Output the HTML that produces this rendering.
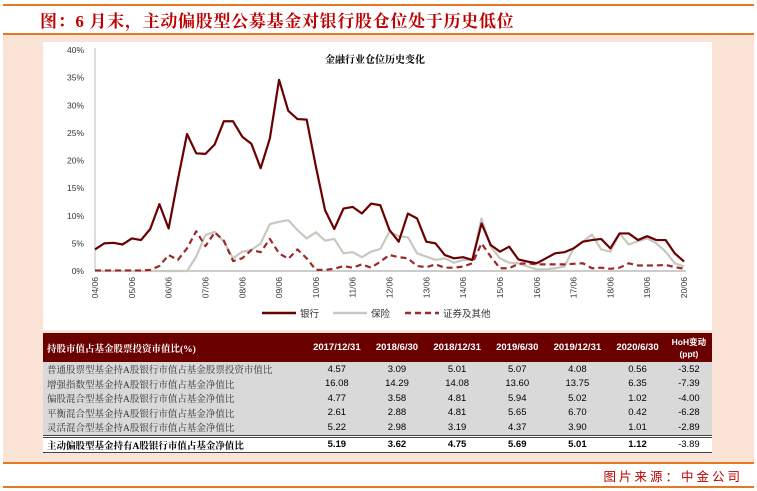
<!DOCTYPE html>
<html><head><meta charset="utf-8"><style>
body{margin:0;width:757px;height:491px;background:#fff;font-family:"Liberation Sans","Noto Sans CJK SC",sans-serif;position:relative;overflow:hidden}
.abs{position:absolute}
#title{left:40px;top:7px;font-size:17px;font-weight:bold;color:#c00000;font-family:"Liberation Serif","Noto Serif CJK SC",serif;letter-spacing:0.7px}
table{border-collapse:collapse;font-size:9.5px}
td{padding:0;text-align:center;height:14.5px}
td.l{text-align:left;padding-left:4px;font-family:"Liberation Serif","Noto Serif CJK SC",serif;color:#333}
</style></head><body>
<div class="abs" style="left:3px;top:4px;width:751px;height:2px;background:#e87722"></div>
<div id="title" class="abs">图：6 月末，主动偏股型公募基金对银行股仓位处于历史低位</div>
<div class="abs" style="left:3px;top:33px;width:751px;height:2px;background:#e87722"></div>
<div class="abs" style="left:3px;top:35px;width:751px;height:427px;background:#fbe3d6"></div>
<div class="abs" style="left:43px;top:42px;width:669px;height:288px;background:#fff"></div>
<svg class="abs" style="left:0;top:0" width="757" height="491" id="chart"></svg>
<div class="abs" style="left:43px;top:333px;width:669px;height:119px;background:#fff">
<table style="width:669px">
<tr style="background:#6b0000;color:#fff;font-weight:bold;height:29px">
<td class="l" style="color:#fff;width:258px;font-weight:bold">持股市值占基金股票投资市值比(%)</td><td>2017/12/31</td><td>2018/6/30</td><td>2018/12/31</td><td>2019/6/30</td><td>2019/12/31</td><td>2020/6/30</td><td style="font-size:8.5px;line-height:12px">HoH变动<br>(ppt)</td></tr>
<tr style="background:#d9d9d9"><td class="l">普通股票型基金持A股银行市值占基金股票投资市值比</td><td>4.57</td><td>3.09</td><td>5.01</td><td>5.07</td><td>4.08</td><td>0.56</td><td>-3.52</td></tr>
<tr style="background:#d9d9d9"><td class="l">增强指数型基金持A股银行市值占基金净值比</td><td>16.08</td><td>14.29</td><td>14.08</td><td>13.60</td><td>13.75</td><td>6.35</td><td>-7.39</td></tr>
<tr style="background:#d9d9d9"><td class="l">偏股混合型基金持A股银行市值占基金净值比</td><td>4.77</td><td>3.58</td><td>4.81</td><td>5.94</td><td>5.02</td><td>1.02</td><td>-4.00</td></tr>
<tr style="background:#d9d9d9"><td class="l">平衡混合型基金持A股银行市值占基金净值比</td><td>2.61</td><td>2.88</td><td>4.81</td><td>5.65</td><td>6.70</td><td>0.42</td><td>-6.28</td></tr>
<tr style="background:#d9d9d9;border-bottom:3px double #444"><td class="l">灵活混合型基金持A股银行市值占基金净值比</td><td>5.22</td><td>2.98</td><td>3.19</td><td>4.37</td><td>3.90</td><td>1.01</td><td>-2.89</td></tr>
<tr style="font-weight:bold;border-bottom:1.5px solid #444;height:15px"><td class="l" style="font-weight:bold;color:#000">主动偏股型基金持有A股银行市值占基金净值比</td><td>5.19</td><td>3.62</td><td>4.75</td><td>5.69</td><td>5.01</td><td>1.12</td><td style="font-weight:normal">-3.89</td></tr>
</table></div>
<div class="abs" style="left:3px;top:462px;width:751px;height:2px;background:#e87722"></div>
<div class="abs" style="right:14px;top:466px;font-size:12.5px;color:#c00000;letter-spacing:3px">图片来源：中金公司</div>
<div class="abs" style="left:3px;top:486px;width:751px;height:2px;background:#e87722"></div>
<script>
const bank=[3.9,5.0,5.1,4.8,5.9,5.6,7.6,12.1,7.7,16.5,24.8,21.3,21.2,22.9,27.1,27.1,24.3,23.0,18.6,24.0,34.6,29.0,27.5,27.4,18.9,11.0,7.6,11.3,11.6,10.4,12.2,11.9,7.4,5.3,10.4,9.5,5.3,5.0,2.9,2.3,2.5,2.0,8.6,4.7,3.5,4.4,2.1,1.7,1.4,2.3,3.2,3.4,4.1,5.3,5.6,5.8,4.1,6.8,6.8,5.6,6.3,5.6,5.6,3.2,1.7];
const insurance=[0,0,0,0,0,0,0,0,0,0,0,2.6,6.5,7.1,5.3,2.3,3.5,3.8,5.0,8.5,8.9,9.2,7.4,5.9,7.0,5.5,5.8,3.2,3.4,2.5,3.5,4.0,7.1,6.3,6.1,3.2,2.6,2.0,2.3,1.5,2.0,2.0,9.5,4.4,2.3,1.5,1.4,0.8,0.3,0.3,0.5,0.8,4.1,5.3,6.6,3.9,3.5,6.8,4.8,5.4,5.9,5.0,3.5,1.4,0.8];
const securities=[0.1,0.1,0.1,0.1,0.1,0.1,0.2,0.9,2.9,2.0,4.1,7.2,4.5,7.0,5.5,1.8,2.3,3.8,3.4,5.8,3.2,2.2,3.9,2.3,0.2,0.2,0.4,0.9,0.6,1.2,0.6,1.7,2.9,2.5,2.3,0.9,0.7,1.2,0.6,0.6,0.8,1.4,5.0,2.6,0.5,0.5,1.3,1.4,1.2,1.2,1.2,1.2,1.3,1.4,0.5,0.6,0.4,0.6,1.4,1.0,1.0,1.0,1.1,0.7,0.4];
const xLabels=["04/06","05/06","06/06","07/06","08/06","09/06","10/06","11/06","12/06","13/06","14/06","15/06","16/06","17/06","18/06","19/06","20/06"];
const yTicks=[0,5,10,15,20,25,30,35,40];
const X0=95,X1=684,Y0=271,Y1=50;
const n=bank.length;
const xs=i=>X0+(X1-X0)*i/(n-1);
const ys=v=>Y0-(Y0-Y1)*v/40;
const NS="http://www.w3.org/2000/svg";
const svg=document.getElementById('chart');
function mk(t,a){const e=document.createElementNS(NS,t);for(const k in a)e.setAttribute(k,a[k]);svg.appendChild(e);return e;}
let e=mk('line',{x1:X0,y1:Y1-2,x2:X0,y2:Y0,stroke:'#bbb','stroke-width':1});


e=mk('line',{x1:X0,y1:Y0,x2:X1+2,y2:Y0,stroke:'#bbb','stroke-width':1.5});


yTicks.forEach(v=>{const t=mk('text',{x:84,y:ys(v)+3,'text-anchor':'end','font-size':'8.5',fill:'#333'});t.textContent=v+'%';

});
xLabels.forEach((l,i)=>{const x=X0+(X1-X0)*i/(xLabels.length-1);const t=mk('text',{x:0,y:0,transform:`translate(${x+3},${Y0+6}) rotate(-90)`,'text-anchor':'end','font-size':'8.5',fill:'#333'});t.textContent=l;

});
function series(d,c,w,dash,name){const p=mk('polyline',{points:d.map((v,i)=>xs(i)+','+ys(v)).join(' '),fill:'none',stroke:c,'stroke-width':w,'stroke-linejoin':'round'});if(dash)p.setAttribute('stroke-dasharray',dash);

}
series(insurance,'#c8c8c0',2.2,null,'insurance-line');
series(securities,'#9b2a2a',2.2,'6,4','securities-line');
series(bank,'#6b0000',2.2,null,'bank-line');
const ct=mk('text',{x:375,y:63,'text-anchor':'middle','font-size':'10','font-weight':'bold',fill:'#000','font-family':'"Liberation Serif","Noto Serif CJK SC",serif'});ct.textContent='金融行业仓位历史变化';


const leg=[['银行','#6b0000',null,262],['保险','#c8c8c0',null,333],['证券及其他','#9b2a2a','6,4',405]];
leg.forEach(([l,c,d,x])=>{const ln=mk('line',{x1:x,y1:313,x2:x+34,y2:313,stroke:c,'stroke-width':2.5});if(d)ln.setAttribute('stroke-dasharray',d);


const t=mk('text',{x:x+38,y:317,'font-size':'9.5',fill:'#333'});t.textContent=l;

});
</script>
</body></html>
